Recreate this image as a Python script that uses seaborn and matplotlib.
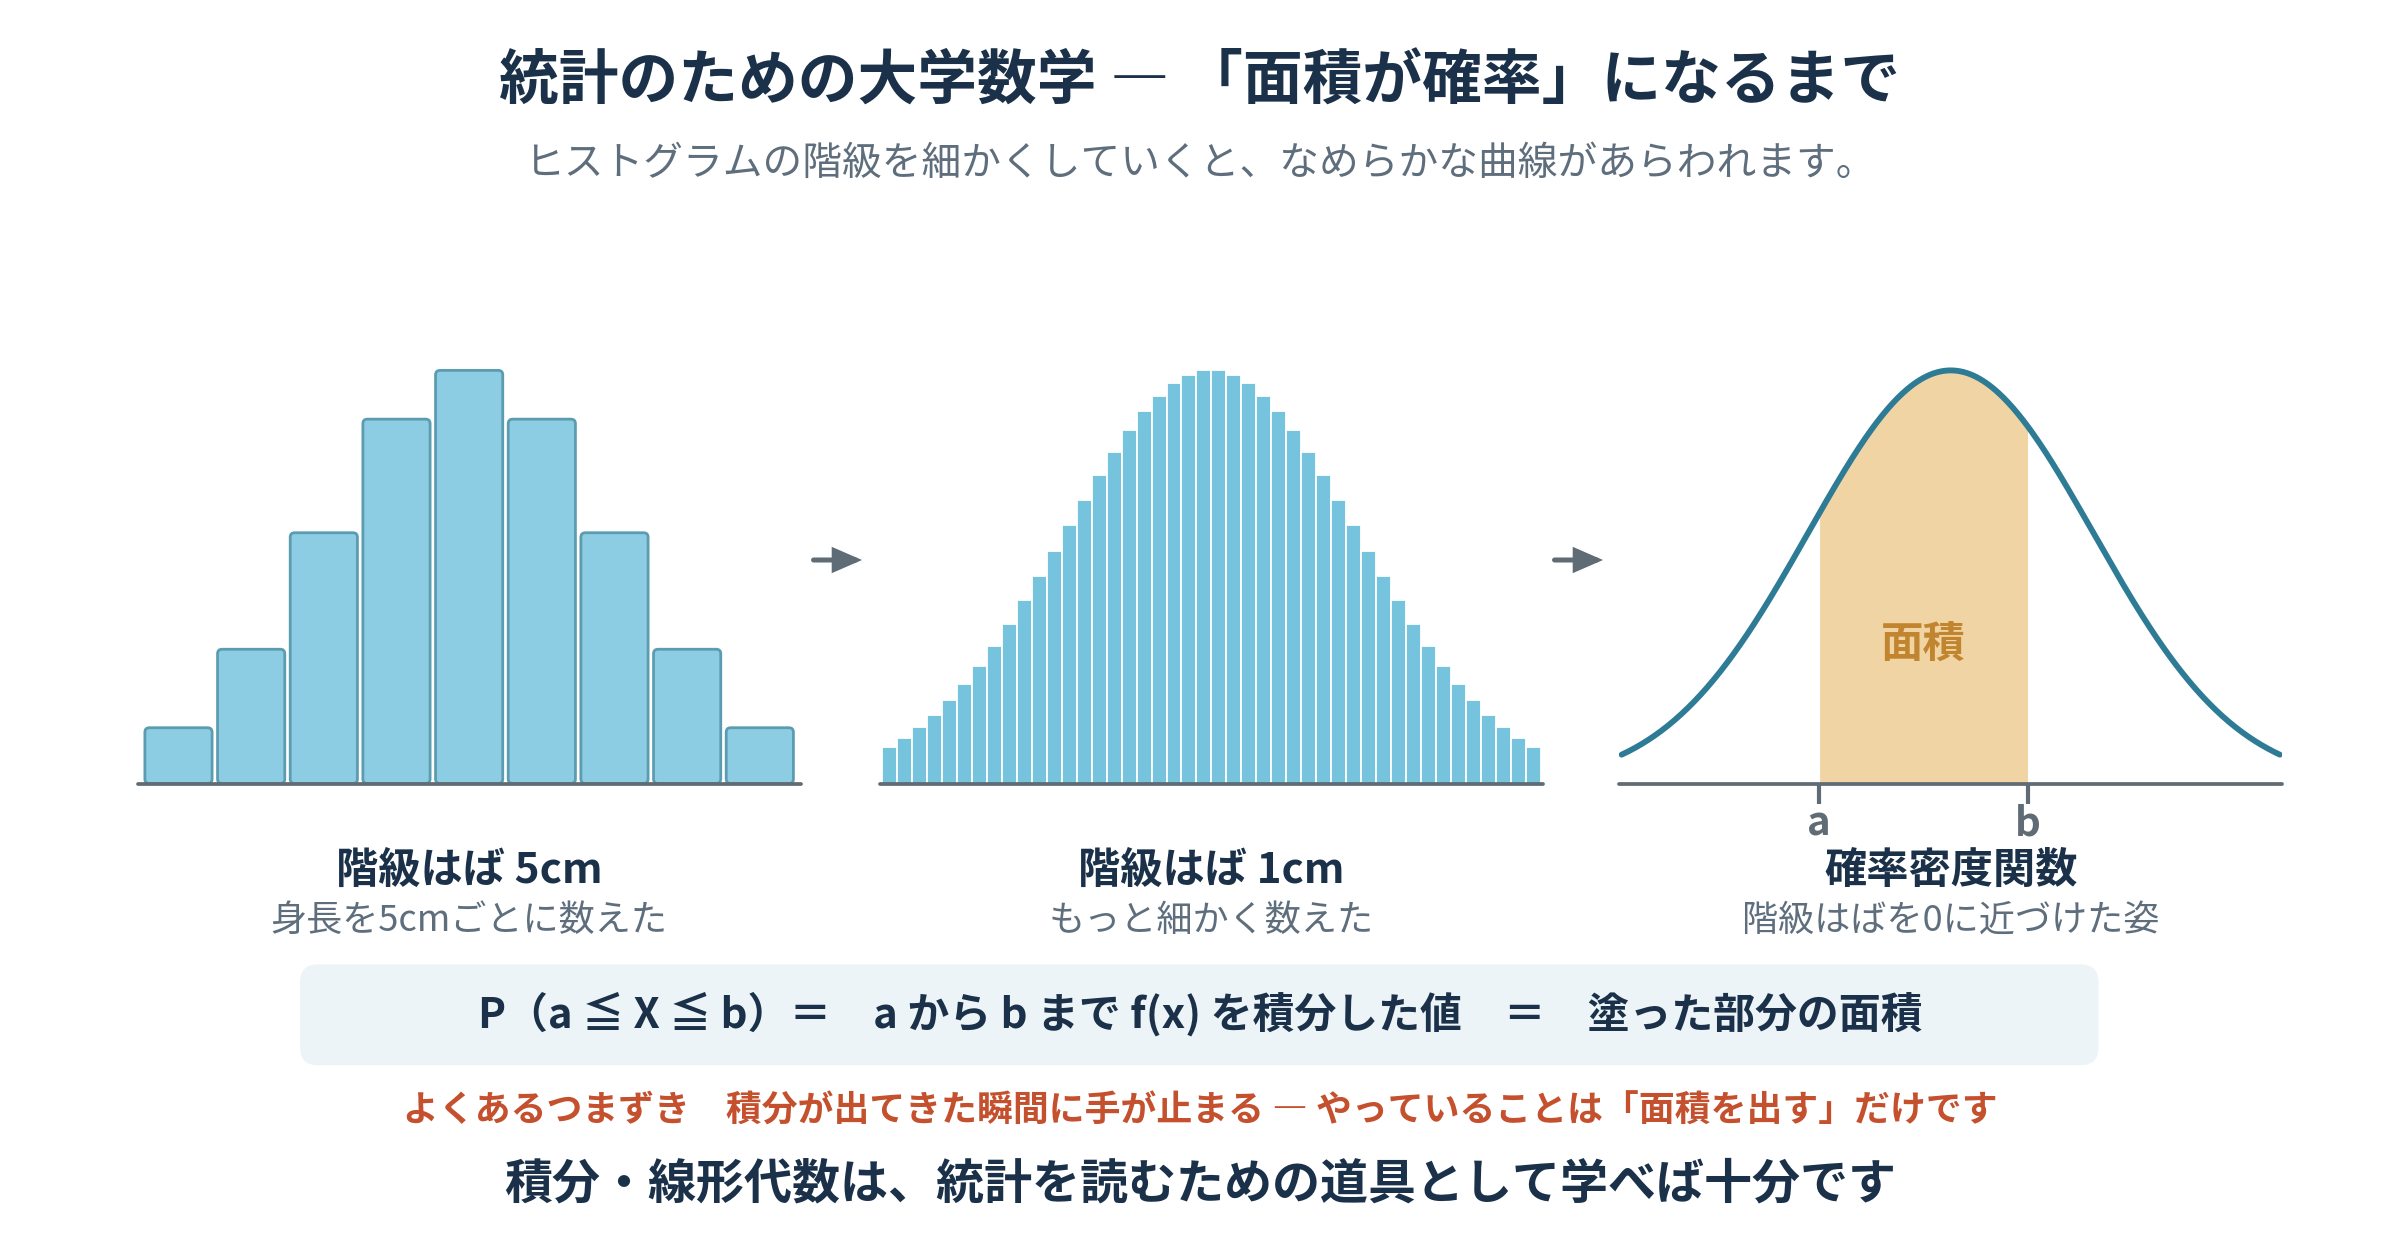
import numpy as np
import pandas as pd
import matplotlib
matplotlib.use("Agg")
import matplotlib.pyplot as plt
import seaborn as sns
from matplotlib.patches import FancyBboxPatch, FancyArrowPatch

# ---------------- data ----------------
title = "統計のための大学数学 ― 「面積が確率」になるまで"
subtitle = "ヒストグラムの階級を細かくしていくと、なめらかな曲線があらわれます。"

bins_5cm = ["150", "155", "160", "165", "170", "175", "180", "185", "190"]
values_5cm = [13.5, 32.5, 60.7, 88.2, 100.0, 88.2, 60.7, 32.5, 13.5]

bins_1cm = [str(v) for v in [148, 149, 150, 151, 152, 153, 154, 155, 156, 157, 158,
                             159, 160, 161, 162, 163, 164, 165, 166, 167, 168, 169,
                             170, 171, 172, 173, 174, 175, 176, 177, 178, 179, 180,
                             181, 182, 183, 184, 185, 186, 187, 188, 189, 190, 191]]
values_1cm = [8.9, 11.1, 13.7, 16.7, 20.2, 24.2, 28.5, 33.4, 38.7, 44.3, 50.2,
              56.3, 62.5, 68.6, 74.6, 80.2, 85.5, 90.1, 93.9, 96.9, 98.9, 100.0,
              100.0, 98.9, 96.9, 93.9, 90.1, 85.5, 80.2, 74.6, 68.6, 62.5, 56.3,
              50.2, 44.3, 38.7, 33.4, 28.5, 24.2, 20.2, 16.7, 13.7, 11.1, 8.9]

pdf_mu = 0.0
pdf_sigma = 1.3
pdf_xrange = (-3.0, 3.0)
area_a = -1.2
area_b = 0.7

panel_titles = ["階級はば 5cm", "階級はば 1cm", "確率密度関数"]
panel_subtitles = ["身長を5cmごとに数えた", "もっと細かく数えた", "階級はばを0に近づけた姿"]
area_label = "面積"
formula = "P（a ≦ X ≦ b）＝　a から b まで f(x) を積分した値　＝　塗った部分の面積"
warning = "よくあるつまずき　積分が出てきた瞬間に手が止まる ― やっていることは「面積を出す」だけです"
conclusion = "積分・線形代数は、統計を読むための道具として学べば十分です"

# ---------------- style ----------------
sns.set_theme(style="white")
plt.rcParams["font.family"] = ["Noto Sans CJK JP", "DejaVu Sans"]

NAVY = "#1B3149"
GRAY = "#5F6E7D"
AXIS = "#5F6B75"
BAR1 = "#8DCDE3"
BAR1_EDGE = "#5B9CB1"
BAR2 = "#76C3DD"
CURVE = "#2D7B95"
FILL = "#F0D4A3"
AREA_TXT = "#C1852F"
RED = "#C4502E"
BOX = "#EDF4F8"

W, H = 2400, 1240
fig = plt.figure(figsize=(24, 12.4), dpi=100)
fig.patch.set_facecolor("white")

# background axes in pixel coordinates
bg = fig.add_axes([0, 0, 1, 1])
bg.set_xlim(0, W)
bg.set_ylim(H, 0)
bg.set_axis_off()

base_px = 783.5
top_px = 350.0
peak_px = 370.4
panel_w = 662.7
panel_lefts = [137.8, 880.1, 1619.4]
scale_top = (base_px - top_px) / (base_px - peak_px)


def panel_ax(left):
    return fig.add_axes([left / W, 1 - base_px / H, panel_w / W, (base_px - top_px) / H])


# ---- panel 1 ----
ax1 = panel_ax(panel_lefts[0])
df1 = pd.DataFrame({"bin": bins_5cm, "value": values_5cm})
sns.barplot(data=df1, x="bin", y="value", ax=ax1, color=BAR1, saturation=1,
            width=0.925, edgecolor=BAR1_EDGE, linewidth=2.0)
xl1 = (-0.56, len(bins_5cm) - 0.44)
yl1 = (0, max(values_5cm) * scale_top)
ax1.set_xlim(*xl1)
ax1.set_ylim(*yl1)
# round the bar corners (radius ~4 px)
px_per_x = panel_w / (xl1[1] - xl1[0])
px_per_y = (base_px - top_px) / (yl1[1] - yl1[0])
r_x = 4.5 / px_per_x
aspect = px_per_x / px_per_y
for p in list(ax1.patches):
    x, y = p.get_x(), p.get_y()
    w, h = p.get_width(), p.get_height()
    rb = FancyBboxPatch((x, y), w, h,
                        boxstyle=f"round,pad=0,rounding_size={r_x}",
                        mutation_aspect=aspect,
                        facecolor=BAR1, edgecolor=BAR1_EDGE, linewidth=2.0,
                        zorder=p.get_zorder())
    p.remove()
    ax1.add_patch(rb)

# ---- panel 2 ----
ax2 = panel_ax(panel_lefts[1])
df2 = pd.DataFrame({"bin": bins_1cm, "value": values_1cm})
sns.barplot(data=df2, x="bin", y="value", ax=ax2, color=BAR2, saturation=1,
            width=1.0, edgecolor="white", linewidth=1.3)
ax2.set_xlim(-0.62, len(bins_1cm) - 0.38)
ax2.set_ylim(0, max(values_1cm) * scale_top)

# ---- panel 3 ----
ax3 = panel_ax(panel_lefts[2])
xs = np.linspace(pdf_xrange[0], pdf_xrange[1], 400)
ys = np.exp(-0.5 * ((xs - pdf_mu) / pdf_sigma) ** 2) / (pdf_sigma * np.sqrt(2 * np.pi))
df3 = pd.DataFrame({"x": xs, "y": ys})
mask = (xs >= area_a) & (xs <= area_b)
ax3.fill_between(xs[mask], 0, ys[mask], color=FILL, lw=0, zorder=1)
sns.lineplot(data=df3, x="x", y="y", ax=ax3, color=CURVE, lw=4.2, zorder=3)
peak = ys.max()
ytop3 = peak * scale_top
ax3.set_xlim(pdf_xrange[0] - 0.02, pdf_xrange[1] + 0.02)
ax3.set_ylim(0, ytop3)
unit3 = ytop3 / (base_px - top_px)   # data units per pixel
for v in (area_a, area_b):
    ax3.plot([v, v], [0, -20 * unit3], color=AXIS, lw=3, clip_on=False,
             solid_capstyle="butt", zorder=5)
ax3.text((area_a + area_b) / 2, 0.337 * peak, area_label, ha="center", va="center",
         fontsize=30.5, fontweight="bold", color=AREA_TXT, zorder=4)
for v, lab in ((area_a, "a"), (area_b, "b")):
    ax3.text(v, -(835 - base_px) * unit3, lab, ha="center", va="baseline",
             fontsize=29, fontweight="bold", color=AXIS)

for ax in (ax1, ax2, ax3):
    ax.set_axis_off()
    ax.axhline(0, color=AXIS, lw=2.7, solid_capstyle="round", zorder=6, clip_on=False)
    ax.set_xlabel("")
    ax.set_ylabel("")

# ---- arrows ----
for x0, x1 in [(813.5, 862.0), (1554.5, 1603.0)]:
    bg.add_patch(FancyArrowPatch((x0, 560), (x1, 560),
                                 arrowstyle="-|>,head_length=0.62,head_width=0.27",
                                 mutation_scale=25, lw=3.6, color=AXIS,
                                 capstyle="round", joinstyle="miter",
                                 shrinkA=0, shrinkB=0))

# ---- texts ----
bg.text(1200, 82.5, title, ha="center", va="center", fontsize=43,
        fontweight="bold", color=NAVY)
bg.text(1200, 163.5, subtitle, ha="center", va="center", fontsize=28.6,
        color=GRAY)

centers = [l + panel_w / 2 for l in panel_lefts]
for cx, t, s in zip(centers, panel_titles, panel_subtitles):
    bg.text(cx, 870.5, t, ha="center", va="center", fontsize=30.4,
            fontweight="bold", color=NAVY)
    bg.text(cx, 921.5, s, ha="center", va="center", fontsize=26, color=GRAY)

bg.add_patch(FancyBboxPatch((300, 964.3), 1798.5, 101,
                            boxstyle="round,pad=0,rounding_size=18",
                            facecolor=BOX, edgecolor="none"))
bg.text(1200, 1013.8, formula, ha="center", va="center", fontsize=30.2,
        fontweight="bold", color=NAVY)
bg.text(1200, 1111, warning, ha="center", va="center", fontsize=25.8,
        fontweight="bold", color=RED)
bg.text(1200, 1183.5, conclusion, ha="center", va="center", fontsize=34.6,
        fontweight="bold", color=NAVY)

fig.savefig("out.png", dpi=100)
